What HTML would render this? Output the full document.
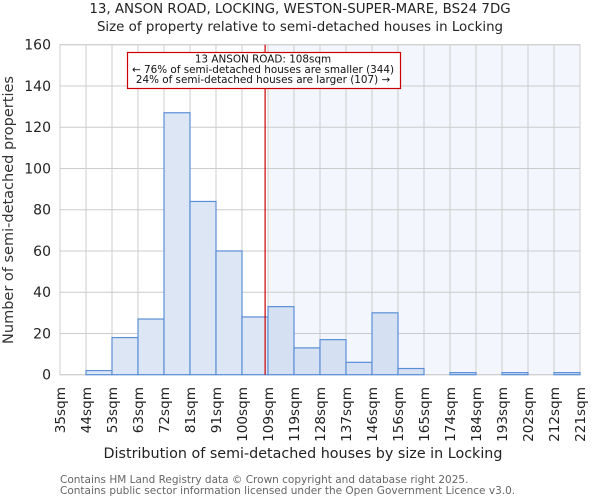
<!DOCTYPE html>
<html><head><meta charset="utf-8"><style>
body{margin:0;background:#fff;}
svg{display:block;font-family:"DejaVu Sans","Liberation Sans",sans-serif;}
</style></head><body>
<svg id="chart" width="600" height="500" xmlns="http://www.w3.org/2000/svg">
<text x="300" y="13" text-anchor="middle" font-size="13.4" fill="#222">13, ANSON ROAD, LOCKING, WESTON-SUPER-MARE, BS24 7DG</text>
<text x="300" y="31" text-anchor="middle" font-size="13.4" fill="#222">Size of property relative to semi-detached houses in Locking</text>
<g id="plot"></g>
<text transform="translate(13,210) rotate(-90)" text-anchor="middle" font-size="14.5" fill="#333">Number of semi-detached properties</text>
<text x="303" y="458" text-anchor="middle" font-size="14.3" fill="#222">Distribution of semi-detached houses by size in Locking</text>
<text x="60" y="483" font-size="10.5" fill="#666">Contains HM Land Registry data © Crown copyright and database right 2025.</text>
<text x="60" y="494" font-size="10.5" fill="#666">Contains public sector information licensed under the Open Government Licence v3.0.</text>
</svg>
<script>
const tickLabels=["35sqm","44sqm","53sqm","63sqm","72sqm","81sqm","91sqm","100sqm","109sqm","119sqm","128sqm","137sqm","146sqm","156sqm","165sqm","174sqm","184sqm","193sqm","202sqm","212sqm","221sqm"];
const counts=[0,2,18,27,127,84,60,28,33,13,17,6,30,3,0,1,0,1,0,1];
const yTicks=[0,20,40,60,80,100,120,140,160];
const propertySize=108;
const highlightBin=8;

const NS="http://www.w3.org/2000/svg";
const L=60,R=580,T=44.7,B=374.7,yMax=160;
const bw=(R-L)/counts.length;
const xBin=i=>L+i*bw;
const y=v=>B-(v/yMax)*(B-T);
const xSize=s=>{for(let i=0;i<tickLabels.length-1;i++){const a=parseFloat(tickLabels[i]),b=parseFloat(tickLabels[i+1]);if(s>=a&&s<=b)return xBin(i)+(s-a)/(b-a)*bw;}return R;};
const g=document.getElementById('plot');
function mk(t,a){const e=document.createElementNS(NS,t);for(const k in a)e.setAttribute(k,a[k]);g.appendChild(e);return e;}
let e;
e=mk('rect',{x:xBin(highlightBin),y:T,width:R-xBin(highlightBin),height:B-T,fill:'#f3f6fd'});


for(let i=0;i<tickLabels.length;i++){
 e=mk('line',{x1:xBin(i),x2:xBin(i),y1:T,y2:B,stroke:'#cccccc','stroke-width':1});
 
 
 e=mk('text',{transform:`translate(${xBin(i)+5},387) rotate(-90)`,'text-anchor':'end','font-size':13.6,fill:'#222'});
 e.textContent=tickLabels[i];
 
 
}
yTicks.forEach(v=>{
 e=mk('line',{x1:L,x2:R,y1:y(v),y2:y(v),stroke:'#cccccc','stroke-width':1});
 
 
 e=mk('text',{x:L-9,y:y(v)+5,'text-anchor':'end','font-size':14,fill:'#222'});
 e.textContent=v;
 
 
});
e=mk('rect',{x:L,y:T,width:R-L,height:B-T,fill:'none',stroke:'#cccccc'});


counts.forEach((c,i)=>{
 if(c<=0)return;
 e=mk('rect',{x:xBin(i),y:y(c),width:bw,height:B-y(c),fill:i>=highlightBin?'#d5e0f2':'#dde6f4',stroke:'#5a8fd6','stroke-width':1.2});
 
 
});
const xl=xSize(propertySize);
e=mk('line',{x1:xl,x2:xl,y1:T,y2:B,stroke:'#cc0000','stroke-width':1.2});


e=mk('rect',{x:127.5,y:52.5,width:273,height:36,fill:'#fff',stroke:'#cc0000','stroke-width':1.2});


["13 ANSON ROAD: 108sqm","← 76% of semi-detached houses are smaller (344)","24% of semi-detached houses are larger (107) →"].forEach((t,i)=>{
 e=mk('text',{x:263,y:62.5+i*10.3,'text-anchor':'middle','font-size':10.4,fill:'#111'});
 e.textContent=t;
 
 
});
</script>
</body></html>
